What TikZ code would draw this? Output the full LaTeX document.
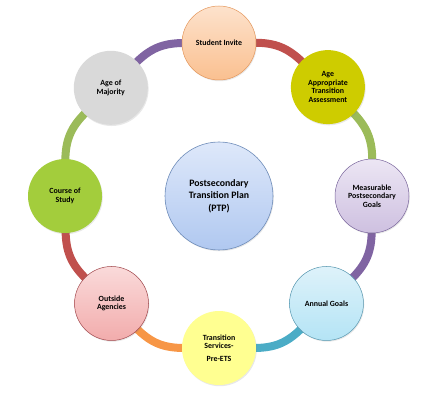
\documentclass[tikz,border=0pt]{standalone}
\usepackage{fontspec}
\setmainfont{Carlito}
\usetikzlibrary{shadows,backgrounds}

\definecolor{linkred}{HTML}{C0504D}
\definecolor{linkgreen}{HTML}{9BBB59}
\definecolor{linkpurple}{HTML}{8064A2}
\definecolor{linkteal}{HTML}{4BACC6}
\definecolor{linkorange}{HTML}{F79646}

\begin{document}
\begin{tikzpicture}[x=1pt, y=1pt,
    stage/.style={circle, minimum size=74pt, inner sep=1pt, align=center,
        font=\bfseries\fontsize{7.9}{8.7}\selectfont,
        drop shadow={opacity=0.18, shadow xshift=0.8pt, shadow yshift=-1.2pt}},
    link/.style={line width=8pt, draw=#1, shorten <=-3pt, shorten >=-3pt}]
    \useasboundingbox (0,0) rectangle (447,402);

    \begin{scope}[shift={(219,206)}]
        \node[stage, circle, minimum size=108pt, font=\bfseries\fontsize{9.8}{12.5}\selectfont,
            top color={rgb,255:red,222;green,232;blue,250}, bottom color={rgb,255:red,176;green,200;blue,240},
            draw={rgb,255:red,110;green,140;blue,185}, line width=0.6pt] (ptp) at (0,0)
            {Postsecondary\\Transition Plan\\(PTP)};

        \node[stage, top color={rgb,255:red,253;green,226;blue,204}, bottom color={rgb,255:red,250;green,192;blue,144},
            draw={rgb,255:red,228;green,150;blue,90}, line width=0.5pt] (invite) at (90:153) {Student Invite};
        \node[stage, fill={rgb,255:red,206;green,204;blue,0}] (assess) at (45:154)
            {Age\\Appropriate\\Transition\\Assessment};
        \node[stage, top color={rgb,255:red,236;green,230;blue,244}, bottom color={rgb,255:red,206;green,192;blue,224},
            draw={rgb,255:red,120;green,100;blue,155}, line width=0.5pt] (goals) at (0:153)
            {Measurable\\Postsecondary\\Goals};
        \node[stage, top color={rgb,255:red,222;green,242;blue,250}, bottom color={rgb,255:red,180;green,228;blue,245},
            draw={rgb,255:red,85;green,150;blue,175}, line width=0.5pt] (annual) at (-45:152) {Annual Goals};
        \node[stage, fill={rgb,255:red,255;green,255;blue,145}] (services) at (-90:152)
            {Transition\\Services-\\[4pt]Pre-ETS};
        \node[stage, top color={rgb,255:red,250;green,218;blue,218}, bottom color={rgb,255:red,242;green,172;blue,172},
            draw={rgb,255:red,160;green,70;blue,75}, line width=0.5pt] (agencies) at (-135:152)
            {Outside\\Agencies};
        \node[stage, fill={rgb,255:red,163;green,205;blue,60}] (course) at (180:154) {Course of\\Study};
        \node[stage, fill={rgb,255:red,217;green,217;blue,217}] (majority) at (135:153) {Age of\\Majority};
    \end{scope}

    % ring of links behind the stages
    \begin{scope}[on background layer]
        \draw[link=linkred] (invite) to[bend left=22.5] (assess);
        \draw[link=linkgreen] (assess) to[bend left=22.5] (goals);
        \draw[link=linkpurple] (goals) to[bend left=22.5] (annual);
        \draw[link=linkteal] (annual) to[bend left=22.5] (services);
        \draw[link=linkorange] (services) to[bend left=22.5] (agencies);
        \draw[link=linkred] (agencies) to[bend left=22.5] (course);
        \draw[link=linkgreen] (course) to[bend left=22.5] (majority);
        \draw[link=linkpurple] (majority) to[bend left=22.5] (invite);
    \end{scope}
\end{tikzpicture}
\end{document}
